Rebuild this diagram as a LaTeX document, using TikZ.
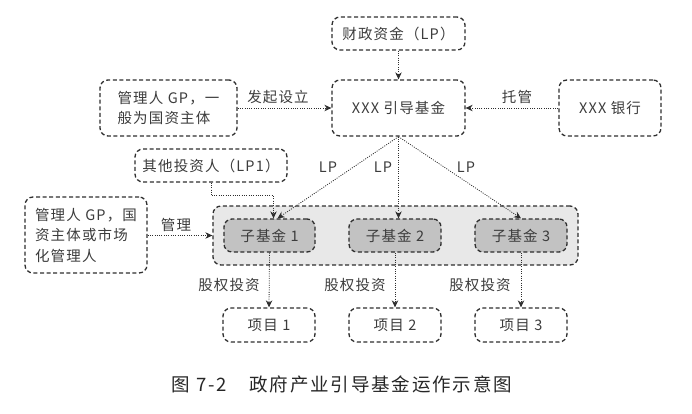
\documentclass[tikz,border=0pt]{standalone}
\usepackage{fontspec}
\setmainfont{Noto Sans CJK SC}[LetterSpace=8]
\usetikzlibrary{arrows.meta,positioning,calc}
\definecolor{txt}{HTML}{3C3C3C}
\definecolor{bord}{HTML}{2E2E2E}
\definecolor{contfill}{HTML}{E8E8E8}
\definecolor{subfill}{HTML}{C2C2C2}
\tikzset{
  box/.style={draw=bord, line width=1.3pt, dash pattern=on 4pt off 2.6pt, rounded corners=8pt,
    text=txt, font=\fontsize{14.5}{20.5}\selectfont, inner sep=2pt},
  conn/.style={draw=bord, line width=0.8pt, dash pattern=on 1pt off 1.3pt,
    -{Stealth[length=7pt,width=6.5pt]}},
  lbl/.style={text=txt, font=\fontsize{14.5}{18}\selectfont, inner sep=0pt},
}
\begin{document}
\begin{tikzpicture}[x=1pt,y=-1pt]
\useasboundingbox (0,0) rectangle (692,413);
% container
\node[box, fill=contfill, minimum width=365pt, minimum height=59pt] (cont) at (395.5,235.5) {};
% boxes
\node[box, minimum width=133pt, minimum height=33pt] (fin) at (398.5,33.5) {财政资金（LP）};
\node[box, minimum width=133pt, minimum height=56pt] (guide) at (398.5,108) {XXX 引导基金};
\node[box, minimum width=137pt, minimum height=56pt, align=left] (gp) at (168.5,108) {管理人 GP，一\\般为国资主体};
\node[box, minimum width=102pt, minimum height=56pt] (bank) at (610,108) {XXX 银行};
\node[box, minimum width=152pt, minimum height=33pt] (lp1) at (211,165.5) {其他投资人（LP1）};
\node[box, minimum width=122pt, minimum height=76pt, align=left] (mgr) at (86,235) {管理人 GP，国\\资主体或市场\\化管理人};
\node[box, fill=subfill, minimum width=91pt, minimum height=33pt] (sf1) at (269.5,235.5) {子基金 1};
\node[box, fill=subfill, minimum width=92pt, minimum height=33pt] (sf2) at (395,235.5) {子基金 2};
\node[box, fill=subfill, minimum width=92pt, minimum height=33pt] (sf3) at (521,235.5) {子基金 3};
\node[box, minimum width=92pt, minimum height=34pt] (p1) at (269,325) {项目 1};
\node[box, minimum width=92pt, minimum height=34pt] (p2) at (395,325) {项目 2};
\node[box, minimum width=92pt, minimum height=34pt] (p3) at (521,325) {项目 3};
% connectors
\draw[conn] (fin.south) -- (guide.north);
\draw[conn] (gp.east) -- (guide.west);
\draw[conn] (bank.west) -- (guide.east);
\draw[conn] (guide.south) -- ([xshift=8pt]sf1.north);
\draw[conn] (guide.south) -- (guide.south |- sf2.north);
\draw[conn] (guide.south) -- (sf3.north);
\draw[conn] (lp1.south) -- ++(0,13) -| ([xshift=4pt]sf1.north);
\draw[conn] (mgr.east |- cont.west) -- (cont.west);
\draw[conn] (sf1.south) -- (p1.north);
\draw[conn] (sf2.south) -- (p2.north);
\draw[conn] (sf3.south) -- (p3.north);
% labels
\node[lbl] (l1) at (278,97) {发起设立};
\node[lbl] (l2) at (517,97) {托管};
\node[lbl] (l3) at (328,167) {LP};
\node[lbl] (l4) at (383,167) {LP};
\node[lbl] (l5) at (466,167) {LP};
\node[lbl] (l6) at (176,225) {管理};
\node[lbl] (l7) at (229,285) {股权投资};
\node[lbl] (l8) at (355,285) {股权投资};
\node[lbl] (l9) at (480,285) {股权投资};
% caption
\node[text=black!85, font=\fontsize{18.5}{22}\selectfont\addfontfeature{LetterSpace=10}, inner sep=0pt] (cap) at (342,384) {图 7-2\hspace{1.2em}政府产业引导基金运作示意图};
\end{tikzpicture}
\end{document}
